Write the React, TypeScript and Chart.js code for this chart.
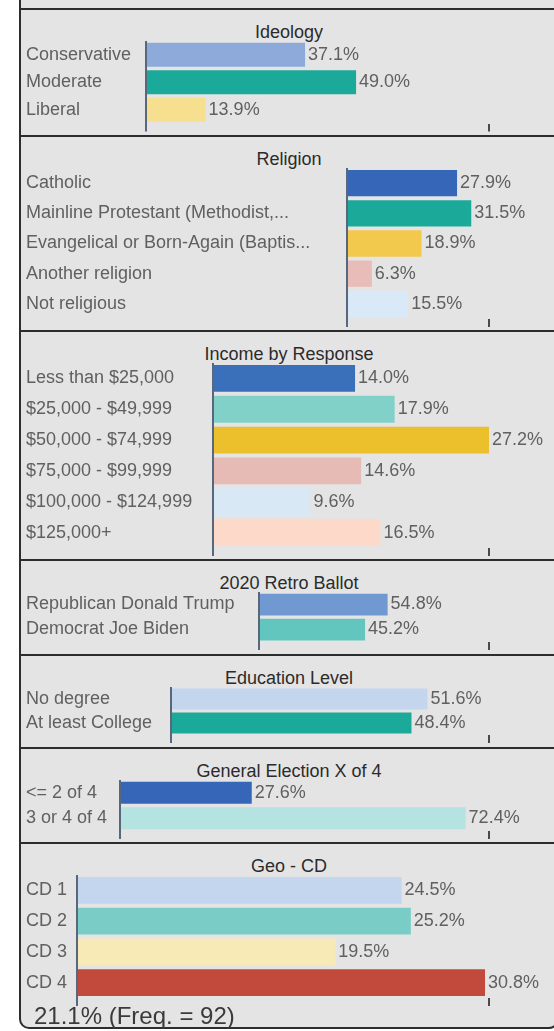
import React, { useEffect, useRef } from 'react';
import { Chart, registerables } from 'chart.js';

Chart.register(...registerables);

// ---------- data ----------
const panelTitles = [
  'Ideology',
  'Religion',
  'Income by Response',
  '2020 Retro Ballot',
  'Education Level',
  'General Election X of 4',
  'Geo - CD',
];

const ideologyLabels = ['Conservative', 'Moderate', 'Liberal'];
const ideologyValues = [37.1, 49.0, 13.9];

const religionLabels = [
  'Catholic',
  'Mainline Protestant (Methodist,...',
  'Evangelical or Born-Again (Baptis...',
  'Another religion',
  'Not religious',
];
const religionValues = [27.9, 31.5, 18.9, 6.3, 15.5];

const incomeLabels = [
  'Less than $25,000',
  '$25,000 - $49,999',
  '$50,000 - $74,999',
  '$75,000 - $99,999',
  '$100,000 - $124,999',
  '$125,000+',
];
const incomeValues = [14.0, 17.9, 27.2, 14.6, 9.6, 16.5];

const ballotLabels = ['Republican Donald Trump', 'Democrat Joe Biden'];
const ballotValues = [54.8, 45.2];

const educationLabels = ['No degree', 'At least College'];
const educationValues = [51.6, 48.4];

const turnoutLabels = ['<= 2 of 4', '3 or 4 of 4'];
const turnoutValues = [27.6, 72.4];

const geoLabels = ['CD 1', 'CD 2', 'CD 3', 'CD 4'];
const geoValues = [24.5, 25.2, 19.5, 30.8];

const axisMax = [80, 36, 27.2, 98, 64, 77.3, 31.1];

const summaryText = '21.1% (Freq. = 92)';

// ---------- styles ----------
const ideologyColors = ['#8eaadb', '#1ba99a', '#f6e08f'];
const religionColors = ['#3566b8', '#1ba99a', '#f2c94c', '#e8bdb9', '#d9e9f7'];
const incomeColors = ['#3a6fba', '#82d1c9', '#ecbf2c', '#e6bab5', '#d9e8f5', '#fcd9c8'];
const ballotColors = ['#7099d2', '#62c5be'];
const educationColors = ['#c4d6ee', '#1ba99a'];
const turnoutColors = ['#3566b8', '#b4e3e1'];
const geoColors = ['#c4d6ee', '#79cdc6', '#f8eab6', '#c14a3d'];

const FONT = '"Liberation Sans", Arial, Helvetica, sans-serif';
const PANEL_BG = '#e4e4e4';
const BORDER = '2px solid #2d2d2d';
const AXIS_COLOR = '#58677c';
const LABEL_COLOR = '#606060';
const TITLE_COLOR = '#2b2b2b';

Chart.defaults.font.family = FONT;

type PanelDef = {
  title: string;
  labels: string[];
  values: number[];
  colors: string[];
  max: number;
  axisX: number;
  canvasH: number;
  padBottom: number;
};

const panels: PanelDef[] = [
  { title: panelTitles[0], labels: ideologyLabels, values: ideologyValues, colors: ideologyColors, max: axisMax[0], axisX: 146, canvasH: 94, padBottom: 3.5 },
  { title: panelTitles[1], labels: religionLabels, values: religionValues, colors: religionColors, max: axisMax[1], axisX: 347, canvasH: 162, padBottom: 3 },
  { title: panelTitles[2], labels: incomeLabels, values: incomeValues, colors: incomeColors, max: axisMax[2], axisX: 213, canvasH: 196, padBottom: 3 },
  { title: panelTitles[3], labels: ballotLabels, values: ballotValues, colors: ballotColors, max: axisMax[3], axisX: 259, canvasH: 62, padBottom: 4 },
  { title: panelTitles[4], labels: educationLabels, values: educationValues, colors: educationColors, max: axisMax[4], axisX: 171, canvasH: 60, padBottom: 4 },
  { title: panelTitles[5], labels: turnoutLabels, values: turnoutValues, colors: turnoutColors, max: axisMax[5], axisX: 120, canvasH: 62, padBottom: 3 },
  { title: panelTitles[6], labels: geoLabels, values: geoValues, colors: geoColors, max: axisMax[6], axisX: 77, canvasH: 132, padBottom: 1 },
];

const CANVAS_W = 536;
const CANVAS_LEFT = 21; // page x of canvas left edge
const PAD_LEFT = 5;
const PLOT_RIGHT = 489;

const valueLabels = {
  id: 'valueLabels',
  afterDatasetsDraw(chart: any) {
    const { ctx } = chart;
    const meta = chart.getDatasetMeta(0);
    const vals = chart.data.datasets[0].data as number[];
    ctx.save();
    ctx.font = `18px ${FONT}`;
    ctx.fillStyle = LABEL_COLOR;
    ctx.textAlign = 'left';
    ctx.textBaseline = 'middle';
    meta.data.forEach((el: any, i: number) => {
      ctx.fillText(vals[i].toFixed(1) + '%', el.x + 3, el.y);
    });
    ctx.restore();
  },
};

function BarPanel({ p, last }: { p: PanelDef; last: boolean }) {
  const ref = useRef<HTMLCanvasElement>(null);

  useEffect(() => {
    const chart = new Chart(ref.current as HTMLCanvasElement, {
      type: 'bar',
      data: {
        labels: p.labels,
        datasets: [
          {
            data: p.values,
            backgroundColor: p.colors,
            borderWidth: 0,
            barPercentage: 0.87,
            categoryPercentage: 1,
          },
        ],
      },
      options: {
        indexAxis: 'y',
        responsive: false,
        animation: false,
        layout: {
          padding: {
            left: PAD_LEFT,
            right: CANVAS_LEFT + CANVAS_W - PLOT_RIGHT,
            top: 0,
            bottom: p.padBottom,
          },
        },
        plugins: {
          legend: { display: false },
          tooltip: { enabled: false },
          title: { display: false },
        },
        scales: {
          x: {
            type: 'linear',
            min: 0,
            max: p.max,
            border: { display: false },
            grid: {
              display: true,
              drawOnChartArea: false,
              drawTicks: true,
              tickLength: 8,
              lineWidth: 2,
              color: (c: any) => (c.tick && c.tick.value === 0 ? AXIS_COLOR : '#4a4a4a'),
            },
            ticks: { display: false },
            afterBuildTicks: (s: any) => {
              s.ticks = [{ value: 0 }, { value: p.max }];
            },
            afterFit: (s: any) => {
              s.paddingLeft = 0;
              s.paddingRight = 0;
            },
          },
          y: {
            type: 'category',
            border: { display: true, color: AXIS_COLOR, width: 2 },
            grid: { display: false },
            ticks: {
              autoSkip: false,
              crossAlign: 'far',
              color: LABEL_COLOR,
              padding: 0,
              font: { family: FONT, size: 18 },
            },
            afterFit: (s: any) => {
              s.width = p.axisX - CANVAS_LEFT - PAD_LEFT;
              s.paddingTop = 0;
              s.paddingBottom = 0;
            },
          },
        },
      } as any,
      plugins: [valueLabels],
    });
    return () => chart.destroy();
  }, [p]);

  return (
    <div
      style={{
        position: 'relative',
        boxSizing: 'border-box',
        width: 540,
        background: PANEL_BG,
        borderLeft: BORDER,
        borderRight: BORDER,
        borderTop: BORDER,
        borderBottom: last ? BORDER : 'none',
        borderBottomLeftRadius: last ? 10 : 0,
        borderBottomRightRadius: last ? 10 : 0,
      }}
    >
      <div
        style={{
          height: 31,
          boxSizing: 'border-box',
          paddingTop: 12,
          lineHeight: '20px',
          fontSize: 18,
          textAlign: 'center',
          color: TITLE_COLOR,
          fontFamily: FONT,
          whiteSpace: 'nowrap',
        }}
      >
        {p.title}
      </div>
      <canvas
        ref={ref}
        width={CANVAS_W}
        height={p.canvasH}
        style={{ display: 'block', width: CANVAS_W, height: p.canvasH }}
      />
      {last && (
        <div style={{ height: 20, position: 'relative' }}>
          <div
            style={{
              position: 'absolute',
              left: 13,
              top: -3,
              fontSize: 24,
              lineHeight: '24px',
              color: '#3a3a3a',
              fontFamily: FONT,
              whiteSpace: 'nowrap',
            }}
          >
            {summaryText}
          </div>
        </div>
      )}
    </div>
  );
}

export default function App() {
  return (
    <div
      style={{
        position: 'fixed',
        left: 0,
        top: 0,
        width: 554,
        height: 1031,
        overflow: 'hidden',
        background: '#ffffff',
        fontFamily: FONT,
      }}
    >
      <div style={{ position: 'absolute', left: 19, top: 0, width: 540 }}>
        <div
          style={{
            height: 8,
            boxSizing: 'border-box',
            background: PANEL_BG,
            borderLeft: BORDER,
            borderRight: BORDER,
          }}
        />
        {panels.map((p, i) => (
          <BarPanel key={i} p={p} last={i === panels.length - 1} />
        ))}
      </div>
    </div>
  );
}
